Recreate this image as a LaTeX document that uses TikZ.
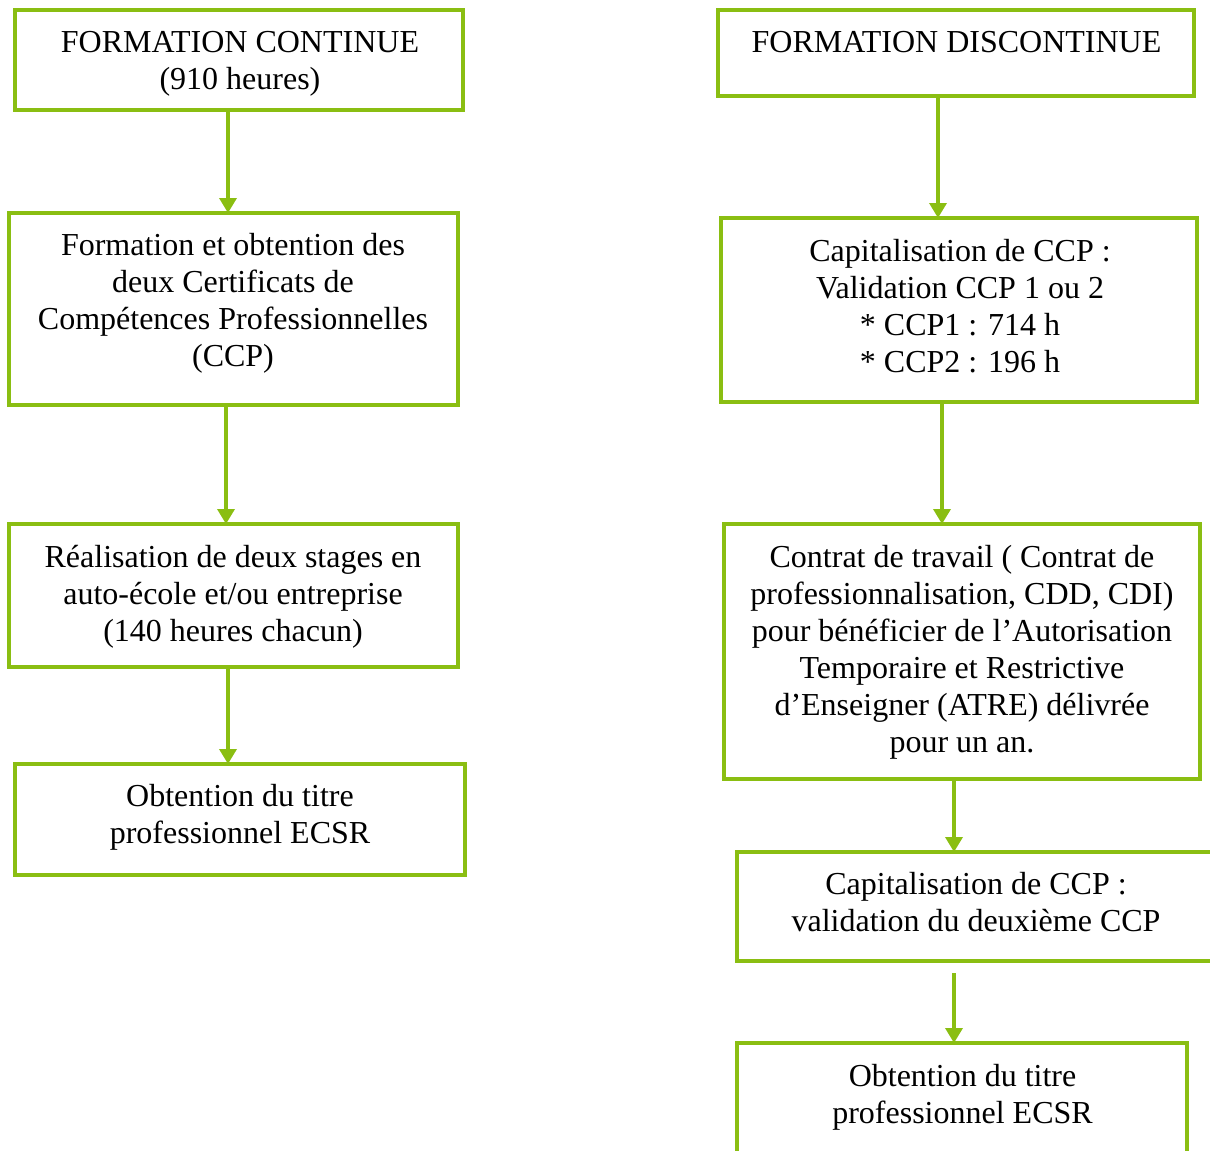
\documentclass[tikz,border=0pt]{standalone}
\usepackage{fontspec}
\setmainfont{Liberation Serif}
\usetikzlibrary{arrows.meta}
\definecolor{lime}{RGB}{138,190,18}
\newcommand{\fst}{\rule{0pt}{28pt}}
\begin{document}
\begin{tikzpicture}[x=1pt,y=-1pt,
  box/.style={draw=lime,line width=3.8pt,rectangle,inner sep=0pt,outer sep=0pt},
  txt/.style={anchor=north,inner sep=0pt,align=center,font=\fontsize{32}{37}\selectfont},
  arr/.style={draw=lime,line width=3.5pt,-{Triangle[width=17pt,length=15pt]}}]
\useasboundingbox (0,0) rectangle (1210,1151);
\begin{scope}
\clip (0,0) rectangle (1210,1151);
% left column
\node[box,minimum width=448,minimum height=100] (b1) at (239,60) {};
\node[box,minimum width=449,minimum height=192] (b2) at (233.5,309) {};
\node[box,minimum width=449,minimum height=143] (b3) at (233.5,595.5) {};
\node[box,minimum width=450,minimum height=111] (b4) at (240,819.5) {};
% right column
\node[box,minimum width=476,minimum height=86] (r1) at (956,53) {};
\node[box,minimum width=476,minimum height=184] (r2) at (959,310) {};
\node[box,minimum width=476,minimum height=255] (r3) at (962,651.5) {};
\node[box,minimum width=478,minimum height=109] (r4) at (976,906.5) {};
\node[box,minimum width=450,minimum height=117] (r5) at (962,1101.5) {};
\end{scope}
% texts
\node[txt] (t1) at (240,24) {\fst FORMATION CONTINUE\\(910 heures)};
\node[txt] (t2) at (233,227) {\fst Formation et obtention des\\deux Certificats de\\Compétences Professionnelles\\(CCP)};
\node[txt] (t3) at (233,539) {\fst Réalisation de deux stages en\\auto-école et/ou entreprise\\(140 heures chacun)};
\node[txt] (t4) at (240,778) {\fst Obtention du titre\\professionnel ECSR};
\node[txt] (s1) at (956.5,24) {\fst FORMATION DISCONTINUE};
\node[txt] (s2) at (960,233) {\fst Capitalisation de CCP :\\Validation CCP 1 ou 2\\* CCP1 : 714 h\\* CCP2 : 196 h};
\node[txt] (s3) at (962,539) {\fst Contrat de travail ( Contrat de\\professionnalisation, CDD, CDI)\\pour bénéficier de l’Autorisation\\Temporaire et Restrictive\\d’Enseigner (ATRE) délivrée\\pour un an.};
\node[txt] (s4) at (976,866) {\fst Capitalisation de CCP :\\validation du deuxième CCP};
\node[txt] (s5) at (962.5,1058) {\fst Obtention du titre\\professionnel ECSR};
% arrows
\draw[arr] ([xshift=-11pt]b1.south) -- ([xshift=-11pt]b1.south |- b2.north);
\draw[arr] ([xshift=-7.5pt]b2.south) -- ([xshift=-7.5pt]b2.south |- b3.north);
\draw[arr] ([xshift=-5.5pt]b3.south) -- ([xshift=-5.5pt]b3.south |- b4.north);
\draw[arr] ([xshift=-18pt]r1.south) -- ([xshift=-18pt]r1.south |- r2.north);
\draw[arr] ([xshift=-17pt]r2.south) -- ([xshift=-17pt]r2.south |- r3.north);
\draw[arr] ([xshift=-8pt]r3.south) -- ([xshift=-8pt]r3.south |- r4.north);
\coordinate (r4out) at ([xshift=-22pt,yshift=-12pt]r4.south);
\draw[arr] (r4out) -- (r4out |- r5.north);
\end{tikzpicture}
\end{document}
